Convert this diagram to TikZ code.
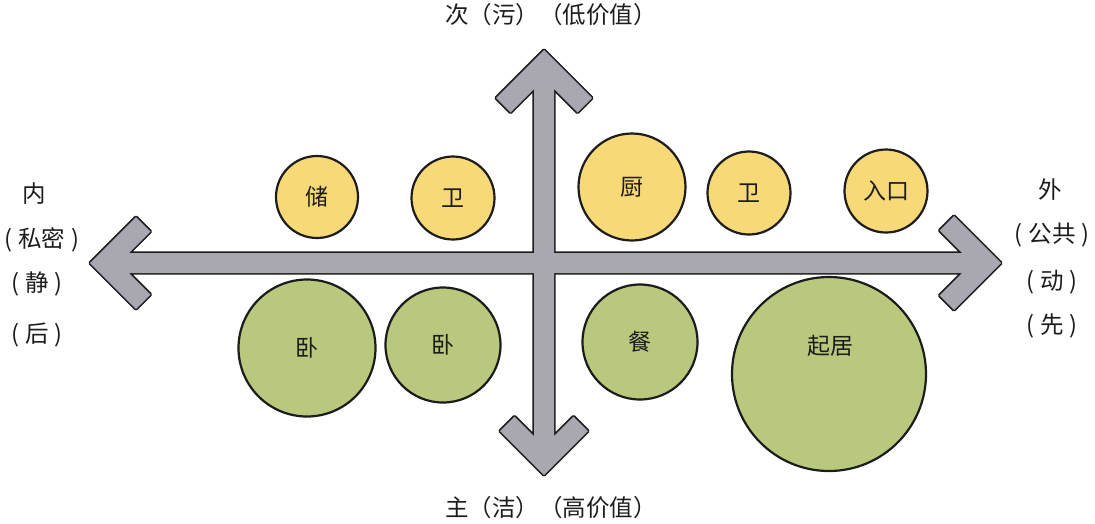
\documentclass[tikz,border=0pt]{standalone}
\usepackage{fontspec}
\setmainfont{Noto Sans CJK SC}
\definecolor{ylw}{HTML}{F8D977}
\definecolor{grn}{HTML}{B8C87D}
\definecolor{axg}{HTML}{A9A8B0}
\definecolor{ink}{HTML}{1C1C1C}
\newcommand\pl{(\kern6pt}
\newcommand\pr{\kern6pt)}
\begin{document}
\begin{tikzpicture}[x=1pt,y=-1pt,
  room/.style={circle,draw=ink,line width=2.2pt,inner sep=0pt,text=ink,font=\fontsize{23}{26}\selectfont},
  yroom/.style={room,fill=ylw},
  groom/.style={room,fill=grn},
  axlabel/.style={text=ink,inner sep=0pt,font=\fontsize{23.5}{26}\selectfont},
  axoutline/.style={draw=ink,line width=3.4pt,line join=round},
  axfill/.style={fill=axg}]
\useasboundingbox (0,0) rectangle (1095,523);
% axes shapes
\def\hpath{(90,263) -- (136,217) -- (150.5,231.5) -- (129,253) -- (962,253) -- (939.5,230.5) -- (954,216) -- (1001,263) -- (954,310) -- (939.5,295.5) -- (962,273) -- (129,273) -- (150.5,294.5) -- (136,309) -- cycle}
\def\vpath{(544,50) -- (592,98) -- (577.5,112.5) -- (554,89) -- (554,436) -- (573.5,416.5) -- (588,431) -- (544,475) -- (500,431) -- (514.5,416.5) -- (534,436) -- (534,89) -- (510.5,112.5) -- (496,98) -- cycle}
\draw[axoutline] \hpath;
\draw[axoutline] \vpath;
\fill[axfill] \hpath;
\fill[axfill] \vpath;
% rooms
\node[yroom,minimum size=82pt] (chu) at (317,197) {储};
\node[yroom,minimum size=83pt] (wei1) at (453,198) {卫};
\node[yroom,minimum size=107pt] (chuf) at (632,187) {厨};
\node[yroom,minimum size=83pt] (wei2) at (749,193) {卫};
\node[yroom,minimum size=83pt] (rukou) at (886,191) {入口};
\node[groom,minimum size=137pt] (wo1) at (307,348) {卧};
\node[groom,minimum size=115pt] (wo2) at (443,345) {卧};
\node[groom,minimum size=115pt] (can) at (640,342) {餐};
\node[groom,minimum size=194pt] (qiju) at (829,374) {};
\node[text=ink,inner sep=0pt,font=\fontsize{23}{26}\selectfont] (qijut) at (830,346) {起居};
% axis labels
\node[axlabel] (top) at (551,15) {次（污）（低价值）};
\node[axlabel] (bot) at (551,508) {主（洁）（高价值）};
\node[axlabel] (l1) at (34,194) {内};
\node[axlabel] (l2) at (42,240) {\pl 私密\pr};
\node[axlabel] (l3) at (37,284) {\pl 静\pr};
\node[axlabel] (l4) at (37,335) {\pl 后\pr};
\node[axlabel] (r1) at (1050,190) {外};
\node[axlabel] (r2) at (1052,235) {\pl 公共\pr};
\node[axlabel] (r3) at (1052,282) {\pl 动\pr};
\node[axlabel] (r4) at (1052,326) {\pl 先\pr};
\end{tikzpicture}
\end{document}
